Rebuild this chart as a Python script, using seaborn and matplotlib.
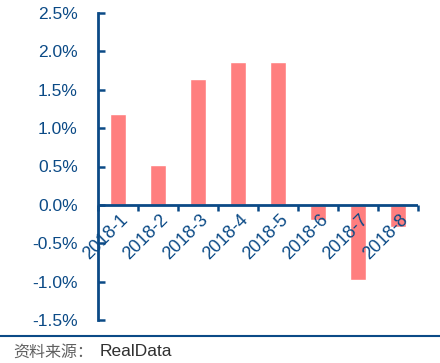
import matplotlib
matplotlib.use("Agg")
import matplotlib.pyplot as plt
import matplotlib.transforms as mtransforms
import seaborn as sns
import pandas as pd
import numpy as np
from matplotlib.ticker import FuncFormatter

months = ["2018-1", "2018-2", "2018-3", "2018-4", "2018-5", "2018-6", "2018-7", "2018-8"]
values = [1.19, 0.52, 1.64, 1.86, 1.86, -0.20, -0.98, -0.29]
yticks = [-1.5, -1.0, -0.5, 0.0, 0.5, 1.0, 1.5, 2.0, 2.5]
source = "资料来源："
source2 = "RealData"

sns.set_theme(style="white")
plt.rcParams['font.family'] = ['Liberation Sans', 'DejaVu Sans']

blue = "#0B4A86"
df = pd.DataFrame({"month": months, "value": values})

fig = plt.figure(figsize=(4.4, 3.63), dpi=100)
ax = fig.add_axes([98/440, 1-320/363, 320/440, 307/363])
sns.barplot(data=df, x="month", y="value", color="#FF7F7F", width=0.4,
            saturation=1, ax=ax)
ax.set_xlim(-0.5, len(months) - 0.5)
ax.set_ylim(-1.5, 2.5)
ax.set_yticks(yticks)
ax.yaxis.set_major_formatter(FuncFormatter(lambda v, p: f"{v:.1f}%"))
ax.set_xlabel("")
ax.set_ylabel("")

for s in ["top", "right", "bottom"]:
    ax.spines[s].set_visible(False)
ax.spines["left"].set_color(blue)
ax.spines["left"].set_linewidth(2)
ax.axhline(0, color=blue, lw=2, zorder=3)

ax.tick_params(axis="y", direction="in", length=5, width=1.8, color=blue,
               labelcolor=blue, labelsize=12.5, pad=14.5, left=True)
ax.set_xticks(range(len(months)))
ax.set_xticklabels([])
ax.tick_params(axis="x", length=0)

trans = mtransforms.blended_transform_factory(ax.transData, ax.transData)
for i, m in enumerate(months):
    ax.annotate(m, xy=(i, 0), xycoords=trans, xytext=(1, -4.5), textcoords="offset points",
                rotation=45, ha="right", va="top", rotation_mode="anchor",
                color=blue, fontsize=13)
for xb in np.arange(-0.5, len(months), 1.0):
    ax.plot([xb, xb], [0, -0.075], color=blue, lw=1.8, clip_on=False, zorder=4,
            solid_capstyle="butt")

fig.add_artist(plt.Line2D([0, 1], [1-336/363, 1-336/363], color=blue, lw=1.5))
fig.text(13/440, 1-352/363, source, fontsize=11.5, color="#606060", va="center",
         family=['Noto Sans CJK SC', 'DejaVu Sans'])
fig.text(100/440, 1-352/363, source2, fontsize=12.5, color="#303030", va="center",
         family=['Liberation Sans'])

fig.savefig("out.png", dpi=100)
